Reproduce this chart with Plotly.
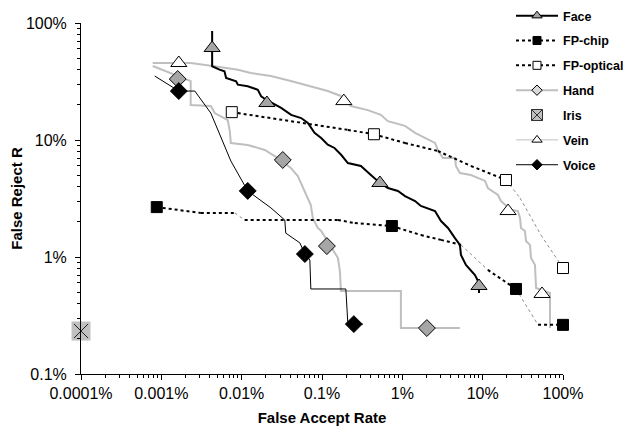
import plotly.graph_objects as go

# ---------------- data (values in %) ----------------
face_x = [0.00429, 0.00429, 0.00530, 0.00611, 0.00640, 0.00853, 0.00896, 0.0119, 0.0159, 0.0175,
          0.0201, 0.0256, 0.0310, 0.0413, 0.0550, 0.0667, 0.0733, 0.0807, 0.0977, 0.118,
          0.143, 0.173, 0.210, 0.305, 0.406, 0.526, 0.661, 0.881, 1.08, 1.44,
          1.70, 2.55, 3.03, 3.70, 4.52, 5.21, 5.37, 6.19, 8.02, 9.0, 9.0]
face_y = [85.4, 42.7, 39.9, 38.6, 33.9, 31.8, 29.7, 28.8, 26.9, 23.6,
          22.1, 20.0, 18.8, 16.4, 15.4, 14.0, 12.7, 11.5, 10.4, 9.12,
          8.55, 7.48, 6.35, 6.00, 5.02, 4.29, 3.89, 3.67, 3.32, 3.01,
          2.73, 2.47, 2.03, 1.77, 1.45, 1.27, 1.04, 0.855, 0.702, 0.600, 0.492]
face_mx = [0.00429, 0.0206, 0.526, 9.0]
face_my = [61.1, 20.7, 4.29, 0.565]

fpchip_x = [0.000877, 0.00310, 0.00822, 0.0109, 0.158, 0.256, 0.741, 1.70, 3.03, 5.37, 11.6, 26.0, 48.9, 100]
fpchip_y = [2.67, 2.38, 2.38, 2.07, 2.07, 1.95, 1.84, 1.54, 1.40, 1.27, 0.775, 0.533, 0.263, 0.263]
fpchip_mx = [0.000877, 0.741, 26.0, 100]
fpchip_my = [2.67, 1.84, 0.533, 0.263]

fpopt_x = [0.00753, 0.210, 0.443, 1.08, 2.77, 7.15, 19.5, 29.2, 53.2, 100]
fpopt_y = [17.3, 12.2, 11.2, 9.43, 8.05, 6.00, 4.55, 3.19, 1.54, 0.805]
fpopt_mx = [0.00753, 0.443, 19.5, 100]
fpopt_my = [17.3, 11.2, 4.55, 0.805]

hand_x = [0.000782, 0.00147, 0.00232, 0.00232, 0.00413, 0.00462, 0.00671, 0.00711, 0.00733, 0.0119,
          0.0194, 0.0282, 0.0409, 0.0500, 0.0612, 0.0726, 0.0769, 0.0887, 0.0977, 0.136,
          0.158, 0.167, 0.172, 0.96, 0.96, 5.21]
hand_y = [42.9, 36.0, 31.9, 19.9, 19.5, 17.0, 14.8, 11.9, 9.43, 9.06,
          8.22, 7.01, 5.77, 4.92, 3.67, 2.78, 2.15, 1.77, 1.67, 1.15,
          0.98, 0.758, 0.512, 0.512, 0.247, 0.247]
hand_mx = [0.00160, 0.0325, 0.115, 2.02]
hand_my = [33.2, 6.75, 1.24, 0.247]

iris_x = [0.0001]
iris_y = [0.233]

vein_x = [0.000782, 0.00232, 0.00459, 0.00896, 0.0130, 0.0231, 0.0409, 0.0726, 0.118, 0.172,
          0.229, 0.372, 0.541, 0.661, 1.08, 1.44, 1.91, 2.55, 2.77, 3.20,
          4.52, 4.65, 5.21, 7.15, 10.7, 11.6, 15.5, 16.9, 22.5, 27.5,
          29.2, 30.0, 33.6, 34.6, 38.8, 40.0, 44.8, 46.2, 68.9, 68.9]
vein_y = [45.5, 45.5, 42.7, 39.9, 37.4, 35.2, 31.9, 28.9, 26.2, 23.8,
          19.5, 18.0, 16.4, 14.5, 13.2, 11.5, 10.4, 9.43, 8.22, 7.01,
          7.01, 6.00, 5.22, 5.02, 4.47, 3.89, 3.39, 3.01, 2.53, 2.47,
          2.15, 1.77, 1.67, 1.37, 1.27, 0.98, 0.855, 0.543, 0.492, 0.247]
vein_mx = [0.00165, 0.187, 20.7, 54.8]
vein_my = [45.5, 21.5, 2.47, 0.483]

voice_x = [0.000828, 0.00165, 0.00261, 0.00413, 0.00733, 0.0119, 0.0231, 0.0344, 0.0354, 0.0459,
           0.0530, 0.0612, 0.0706, 0.0726, 0.198, 0.210, 0.323]
voice_y = [35.2, 26.2, 26.2, 17.0, 6.62, 3.67, 2.63, 2.07, 1.60, 1.40,
           1.32, 1.06, 0.942, 0.533, 0.533, 0.267, 0.267]
voice_mx = [0.00165, 0.0119, 0.0612, 0.249]
voice_my = [26.2, 3.67, 1.06, 0.267]

x_tickvals = [0.0001, 0.001, 0.01, 0.1, 1, 10, 100]
x_ticktext = ["0.0001%", "0.001%", "0.01%", "0.1%", "1%", "10%", "100%"]
y_tickvals = [0.1, 1, 10, 100]
y_ticktext = ["0.1%", "1%", "10%", "100%"]

# segments drawn thin grey (sparse interpolation) for dotted series
fpchip_thin = [(2, 3), (9, 10), (11, 12)]
fpopt_thin = [(6, 7), (7, 8), (8, 9)]

# ---------------- styling ----------------
BLACK = "black"
LGRAY = "#bfbfbf"
MGRAY = "#a6a6a6"
FONT = "Liberation Sans, Arial, sans-serif"


def split_segments(xs, ys, thin):
    tx, ty, nx, ny = [], [], [], []
    for i in range(len(xs) - 1):
        if (i, i + 1) in thin:
            nx += [xs[i], xs[i + 1], None]
            ny += [ys[i], ys[i + 1], None]
        else:
            tx += [xs[i], xs[i + 1], None]
            ty += [ys[i], ys[i + 1], None]
    return tx, ty, nx, ny


fig = go.Figure()

# lines
fig.add_trace(go.Scatter(x=hand_x, y=hand_y, mode="lines", line=dict(color=LGRAY, width=2),
                         showlegend=False, hoverinfo="skip"))
fig.add_trace(go.Scatter(x=vein_x, y=vein_y, mode="lines", line=dict(color=LGRAY, width=2),
                         showlegend=False, hoverinfo="skip"))
for xs, ys, thin in [(fpchip_x, fpchip_y, fpchip_thin), (fpopt_x, fpopt_y, fpopt_thin)]:
    tx, ty, nx, ny = split_segments(xs, ys, thin)
    fig.add_trace(go.Scatter(x=nx, y=ny, mode="lines", line=dict(color="#8c8c8c", width=1, dash="dot"),
                             showlegend=False, hoverinfo="skip"))
    fig.add_trace(go.Scatter(x=tx, y=ty, mode="lines", line=dict(color=BLACK, width=2, dash="dot"),
                             showlegend=False, hoverinfo="skip"))
fig.add_trace(go.Scatter(x=voice_x, y=voice_y, mode="lines", line=dict(color=BLACK, width=1),
                         showlegend=False, hoverinfo="skip"))
fig.add_trace(go.Scatter(x=face_x, y=face_y, mode="lines", line=dict(color=BLACK, width=2),
                         showlegend=False, hoverinfo="skip"))

# markers
mk = [
    (face_mx, face_my, dict(symbol="triangle-up", size=14, color=MGRAY, line=dict(color=BLACK, width=1))),
    (fpchip_mx, fpchip_my, dict(symbol="square", size=11, color=BLACK, line=dict(color=BLACK, width=1))),
    (fpopt_mx, fpopt_my, dict(symbol="square", size=11, color="white", line=dict(color=BLACK, width=1))),
    (hand_mx, hand_my, dict(symbol="diamond", size=13, color=MGRAY, line=dict(color=BLACK, width=1))),
    (vein_mx, vein_my, dict(symbol="triangle-up", size=14, color="white", line=dict(color=BLACK, width=1))),
    (voice_mx, voice_my, dict(symbol="diamond", size=13, color=BLACK, line=dict(color=BLACK, width=1))),
    (iris_x, iris_y, dict(symbol="square", size=19, color="#c0c0c0", line=dict(width=0))),
    (iris_x, iris_y, dict(symbol="x-thin-open", size=14, color="#202020", line=dict(color="#202020", width=1))),
]
for xs, ys, m in mk:
    fig.add_trace(go.Scatter(x=xs, y=ys, mode="markers", marker=m, cliponaxis=False,
                             showlegend=False, hoverinfo="skip"))

# legend entries
leg = [
    ("Face", "lines+markers", dict(color=BLACK, width=2), dict(symbol="triangle-up", size=9, color=MGRAY, line=dict(color=BLACK, width=1))),
    ("FP-chip", "lines+markers", dict(color=BLACK, width=2, dash="dot"), dict(symbol="square", size=8, color=BLACK, line=dict(color=BLACK, width=1))),
    ("FP-optical", "lines+markers", dict(color=BLACK, width=2, dash="dot"), dict(symbol="square", size=8, color="white", line=dict(color=BLACK, width=1))),
    ("Hand", "lines+markers", dict(color=LGRAY, width=2), dict(symbol="diamond", size=8, color="#d9d9d9", line=dict(color=BLACK, width=1))),
    ("Iris", "markers", None, dict(symbol="square-x", size=11, color="#c0c0c0", line=dict(color="#303030", width=1))),
    ("Vein", "lines+markers", dict(color=LGRAY, width=1), dict(symbol="triangle-up", size=9, color="white", line=dict(color=BLACK, width=1))),
    ("Voice", "lines+markers", dict(color=BLACK, width=1), dict(symbol="diamond", size=8, color=BLACK, line=dict(color=BLACK, width=1))),
]
for name, mode, ln, m in leg:
    kw = dict(x=[None], y=[None], mode=mode, name=name, marker=m, legendgroup=name, showlegend=True)
    if ln is not None:
        kw["line"] = ln
    fig.add_trace(go.Scatter(**kw))

minor_x = [k * 10 ** d for d in range(-4, 2) for k in range(2, 10)]
minor_y = [k * 10 ** d for d in range(-1, 2) for k in range(2, 10)]

fig.update_layout(
    width=631, height=431,
    margin=dict(l=73, r=76, t=15, b=65, autoexpand=False),
    paper_bgcolor="white", plot_bgcolor="white",
    font=dict(family=FONT, color=BLACK),
    legend=dict(xref="paper", yref="paper", x=(503 - 73) / 482, y=1 + 22 / 351,
                xanchor="left", yanchor="top", font=dict(size=12.5, weight="bold", family=FONT),
                itemwidth=42, tracegroupgap=5.6, traceorder="grouped",
                bgcolor="rgba(0,0,0,0)", borderwidth=0),
    xaxis=dict(type="log", range=[-4, 2], tickmode="array", tickvals=x_tickvals, ticktext=x_ticktext,
               automargin=False,
               ticks="outside", ticklen=5, tickwidth=1, tickcolor=BLACK,
               showline=True, linecolor=BLACK, linewidth=1, showgrid=False, zeroline=False,
               tickfont=dict(size=16),
               title=dict(text="False Accept Rate", font=dict(size=15, weight="bold"), standoff=11),
               minor=dict(tickvals=minor_x, ticks="outside", ticklen=3, tickwidth=1, tickcolor=BLACK, showgrid=False)),
    yaxis=dict(type="log", range=[-1, 2], tickmode="array", tickvals=y_tickvals, ticktext=y_ticktext,
               automargin=False, ticklabelstandoff=5,
               ticks="outside", ticklen=5, tickwidth=1, tickcolor=BLACK,
               showline=True, linecolor=BLACK, linewidth=1, showgrid=False, zeroline=False,
               tickfont=dict(size=16),
               title=dict(text="False Reject R", font=dict(size=15, weight="bold"), standoff=12),
               minor=dict(tickvals=minor_y, ticks="outside", ticklen=3, tickwidth=1, tickcolor=BLACK, showgrid=False)),
)

fig.write_html("out.html", config={"displayModeBar": False})
